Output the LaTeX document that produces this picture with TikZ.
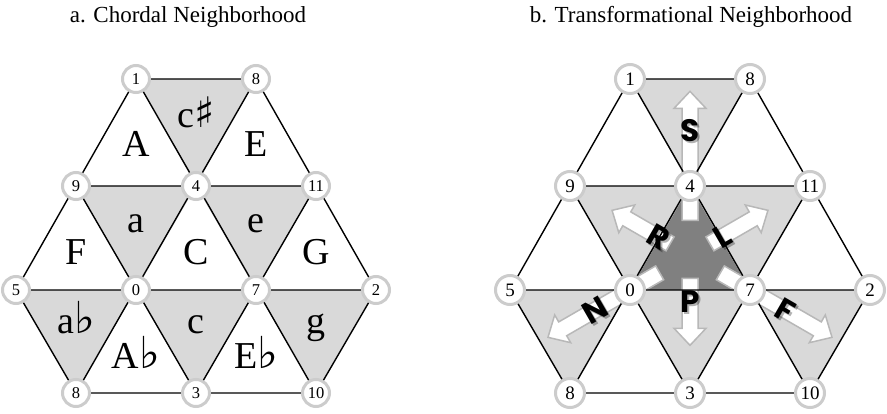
\documentclass[tikz,border=0pt]{standalone}
\usepackage{fontspec}
\setmainfont{Liberation Serif}
\newfontfamily\accfont{DejaVu Serif}
\newfontfamily\trfont{Poppins}
\usetikzlibrary{calc}

\definecolor{lightfill}{gray}{0.85}
\definecolor{darkfill}{gray}{0.5}
\definecolor{ringgray}{gray}{0.8}
\definecolor{arrowedge}{gray}{0.72}

\tikzset{
  edge/.style={line width=1.4pt, black},
  ringA/.style={circle, draw=ringgray, fill=white, line width=3pt, minimum size=27pt,
    inner sep=0pt, font=\fontsize{16.5}{16.5}\selectfont},
  ringB/.style={ringA, minimum size=29pt, font=\fontsize{19}{19}\selectfont},
  chord/.style={anchor=base, inner sep=0pt, font=\fontsize{38}{38}\selectfont},
  title/.style={anchor=base, inner sep=0pt, font=\fontsize{23}{23}\selectfont},
  fatarrow/.style={fill=white, draw=arrowedge, line width=1.5pt},
  trtext/.style={inner sep=0pt, font=\trfont\bfseries\fontsize{31}{31}\selectfont},
}

\newcommand{\accflat}{{\accfont\fontsize{44}{44}\selectfont ♭}}
\newcommand{\accsharp}{{\accfont\fontsize{42}{42}\selectfont ♯}}

% vertices and shaded (minor) triangles of one hexagonal patch
\newcommand{\trigrid}[2]{%
  \coordinate (#1-1) at (#2+136,334);
  \coordinate (#1-8t) at (#2+256,334);
  \coordinate (#1-9) at (#2+76,227);
  \coordinate (#1-4) at (#2+196,227);
  \coordinate (#1-11) at (#2+316,227);
  \coordinate (#1-5) at (#2+16,123);
  \coordinate (#1-0) at (#2+136,123);
  \coordinate (#1-7) at (#2+256,123);
  \coordinate (#1-2) at (#2+376,123);
  \coordinate (#1-8b) at (#2+76,20);
  \coordinate (#1-3) at (#2+196,20);
  \coordinate (#1-10) at (#2+316,20);
  \fill[lightfill] (#1-1) -- (#1-8t) -- (#1-4) -- cycle;
  \fill[lightfill] (#1-9) -- (#1-4) -- (#1-0) -- cycle;
  \fill[lightfill] (#1-4) -- (#1-11) -- (#1-7) -- cycle;
  \fill[lightfill] (#1-5) -- (#1-0) -- (#1-8b) -- cycle;
  \fill[lightfill] (#1-0) -- (#1-7) -- (#1-3) -- cycle;
  \fill[lightfill] (#1-7) -- (#1-2) -- (#1-10) -- cycle;
}
% the three families of grid lines
\newcommand{\trilines}[1]{%
  \draw[edge] (#1-1) -- (#1-8t) (#1-9) -- (#1-11) (#1-5) -- (#1-2) (#1-8b) -- (#1-10)
    (#1-1) -- (#1-10) (#1-9) -- (#1-3) (#1-8t) -- (#1-2) (#1-5) -- (#1-8b)
    (#1-8t) -- (#1-8b) (#1-1) -- (#1-5) (#1-11) -- (#1-3) (#1-2) -- (#1-10);
}
% pitch-class rings on the vertices
\newcommand{\trirings}[2]{%
  \node[#2] (#1-n1) at (#1-1) {1};
  \node[#2] (#1-n8t) at (#1-8t) {8};
  \node[#2] (#1-n9) at (#1-9) {9};
  \node[#2] (#1-n4) at (#1-4) {4};
  \node[#2] (#1-n11) at (#1-11) {11};
  \node[#2] (#1-n5) at (#1-5) {5};
  \node[#2] (#1-n0) at (#1-0) {0};
  \node[#2] (#1-n7) at (#1-7) {7};
  \node[#2] (#1-n2) at (#1-2) {2};
  \node[#2] (#1-n8b) at (#1-8b) {8};
  \node[#2] (#1-n3) at (#1-3) {3};
  \node[#2] (#1-n10) at (#1-10) {10};
}
% broad outlined arrow leaving the central triad
\newcommand{\trarrow}[3]{%
  \begin{scope}[shift={(ctr)}, rotate=#1]
    \draw[fatarrow] (#2,-8) -- (#3-17,-8) -- (#3-17,-16) -- (#3,0)
      -- (#3-17,16) -- (#3-17,8) -- (#2,8) -- cycle;
  \end{scope}}
% transformation letter with a soft drop shadow
\newcommand{\trlabel}[4]{%
  \node[trtext, text=black, opacity=0.3, xshift=2pt, yshift=-2pt, rotate=#3] (#1-s) at (#2) {#4};
  \node[trtext, rotate=#3] (#1) at (#2) {#4};}

\begin{document}
\begin{tikzpicture}[x=1pt, y=1pt]
  \useasboundingbox (0,0) rectangle (887,413);

  % titles
  \node[title] (ta) at (188,390) {a. Chordal Neighborhood};
  \node[title] (tb) at (691,390) {b. Transformational Neighborhood};

  % ---- a. chordal neighborhood ----
  \trigrid{a}{0}
  \trilines{a}
  \trirings{a}{ringA}
  \node[chord] (cA)  at (136,256) {A};
  \node[chord] (cE)  at (256,256) {E};
  \node[chord] (cF)  at (76,148) {F};
  \node[chord] (cC)  at (196,148) {C};
  \node[chord] (cG)  at (316,148) {G};
  \node[chord] (cAb) at (136,45) {A\accflat};
  \node[chord] (cEb) at (256,45) {E\accflat};
  \node[chord] (ccs) at (196,285) {c\accsharp};
  \node[chord] (ca)  at (136,180) {a};
  \node[chord] (ce)  at (256,180) {e};
  \node[chord] (cab) at (76,80) {a\accflat};
  \node[chord] (cc)  at (196,80) {c};
  \node[chord] (cg)  at (316,80) {g};

  % ---- b. transformational neighborhood ----
  \trigrid{b}{494}
  \fill[darkfill] (b-4) -- (b-0) -- (b-7) -- cycle;
  \coordinate (ctr) at (690,157.67);
  \trarrow{90}{35}{164}
  \trarrow{210}{35}{164}
  \trarrow{330}{35}{164}
  \trarrow{30}{23}{90}
  \trarrow{150}{23}{90}
  \trarrow{270}{23}{90}
  \trilines{b}
  \trirings{b}{ringB}

  \coordinate (pS) at ($(ctr)+(90:125)$);
  \coordinate (pL) at ($(ctr)+(30:38)$);
  \coordinate (pR) at ($(ctr)+(150:36)$);
  \coordinate (pP) at ($(ctr)+(270:46)$);
  \coordinate (pN) at ($(ctr)+(210:110)$);
  \coordinate (pF) at ($(ctr)+(330:110)$);
  \trlabel{lS}{pS}{0}{S}
  \trlabel{lL}{pL}{30}{L}
  \trlabel{lR}{pR}{-30}{R}
  \trlabel{lP}{pP}{0}{P}
  \trlabel{lN}{pN}{30}{N}
  \trlabel{lF}{pF}{-30}{F}
\end{tikzpicture}
\end{document}
